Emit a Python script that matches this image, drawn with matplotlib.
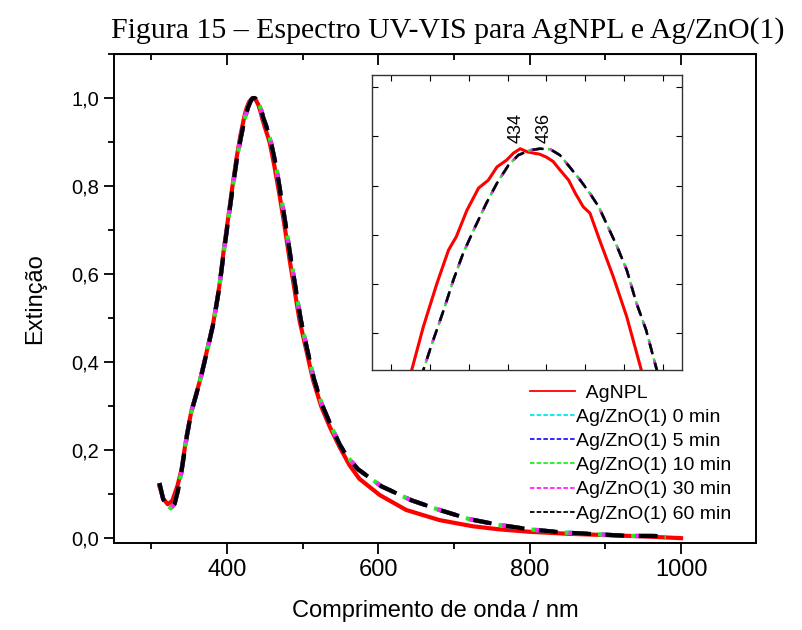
import numpy as np
import matplotlib.pyplot as plt
from matplotlib.ticker import MultipleLocator, FuncFormatter

plt.rcParams['font.family'] = ['Liberation Sans', 'DejaVu Sans']

# AgNPL (red curve): wavelength (nm) and normalised extinction
wl_agnpl = [311, 316, 322, 328, 335, 340, 347.5, 353.5, 364, 373,
            382, 390, 396, 402, 407.5, 413, 418, 422.8, 424.0, 425.4,
            426.6, 427.4, 428.5, 429.7, 430.7, 431.6, 432.6, 433.3, 434.0, 434.7,
            435.4, 436.0, 436.7, 437.4, 438.1, 439.0, 439.7, 440.5, 441.2, 442.2,
            443.6, 445.0, 446.5, 450, 456.5, 463, 470, 476.5, 483, 489.5,
            496, 505, 514, 525, 536, 549, 562, 575, 602, 637,
            681, 725, 760, 800, 850, 900, 950, 1000]
ext_agnpl = [0.118, 0.09, 0.077, 0.085, 0.12, 0.155, 0.238, 0.291, 0.355, 0.42,
             0.488, 0.571, 0.655, 0.73, 0.80, 0.865, 0.915, 0.955, 0.9638, 0.9726,
             0.9794, 0.9821, 0.9875, 0.992, 0.9936, 0.9963, 0.9977, 0.9991, 1.0, 0.9994,
             0.9991, 0.9989, 0.9983, 0.9974, 0.9957, 0.9936, 0.9909, 0.9882, 0.9869, 0.9814,
             0.974, 0.9658, 0.955, 0.935, 0.90, 0.844, 0.776, 0.707, 0.632, 0.564,
             0.495, 0.427, 0.359, 0.298, 0.253, 0.207, 0.166, 0.135, 0.098, 0.064,
             0.041, 0.027, 0.02, 0.0145, 0.01, 0.007, 0.004, 0.0]

# Ag/ZnO(1) curves (0 to 60 min) - they lie on top of each other
wl_agzno = [311, 316, 320, 326, 331, 336, 340, 347.5, 353.5, 364,
            373, 382, 390, 396, 402, 407.5, 413, 418.5,
            424.0, 424.9, 426.1, 427.1, 428.1, 429.2, 430.5, 431.6, 432.8, 433.8,
            435.0, 436.0, 437.1, 438.1, 439.1, 440.2, 441.2, 442.1, 442.9, 444.0,
            445.0, 446.0, 447.0, 448.1,
            452, 458, 465, 471.5, 478, 484.5, 491, 497.5,
            506, 515, 526, 537, 549, 558, 573, 604, 644, 681,
            721, 760, 800, 843, 892, 932, 967, 980]
ext_agzno = [0.125, 0.088, 0.078, 0.068, 0.078, 0.112, 0.15, 0.235, 0.289, 0.353,
             0.418, 0.486, 0.568, 0.65, 0.724, 0.794, 0.858, 0.91,
             0.955, 0.9604, 0.9672, 0.9733, 0.9787, 0.9835, 0.9889, 0.993, 0.9967, 0.9987,
             0.9997, 1.0, 0.9999, 0.9987, 0.9963, 0.9936, 0.9909, 0.9882, 0.9848, 0.9801,
             0.9753, 0.9686, 0.9631, 0.955,
             0.937, 0.902, 0.846, 0.778, 0.709, 0.635, 0.567, 0.498,
             0.43, 0.362, 0.302, 0.258, 0.213, 0.188, 0.157, 0.118, 0.086, 0.064,
             0.043, 0.03, 0.02, 0.013, 0.0085, 0.005, 0.005, 0.003]

zno_labels = ['Ag/ZnO(1) 0 min', 'Ag/ZnO(1) 5 min', 'Ag/ZnO(1) 10 min',
              'Ag/ZnO(1) 30 min', 'Ag/ZnO(1) 60 min']
zno_colors = ['#00e8f0', '#1a1aff', '#22ee22', '#ff22ff', '#000000']
zno_offsets = [1.2, 0.6, 1.8, 0.9, 0.0]

peak_labels = [(434, '434'), (436, '436')]

fig = plt.figure(figsize=(8.03, 6.30), dpi=100)
ax = fig.add_axes([114/803, 87/630, 642/803, 489/630])

ax.plot(wl_agnpl, ext_agnpl, color='#ff0000', lw=3.0, label='  AgNPL', zorder=2)
for lab, col, off in zip(zno_labels, zno_colors, zno_offsets):
    ax.plot(wl_agzno, ext_agzno, color=col, lw=3.0,
            linestyle=(off, (4.5, 3.5)), label=lab, zorder=3)

ax.set_xlim(251, 1099)
ax.set_ylim(-0.011, 1.1)
ax.xaxis.set_major_locator(MultipleLocator(200))
ax.xaxis.set_minor_locator(MultipleLocator(100))
ax.yaxis.set_major_locator(MultipleLocator(0.2))
ax.yaxis.set_minor_locator(MultipleLocator(0.1))
ax.yaxis.set_major_formatter(FuncFormatter(lambda v, p: f'{v:.1f}'.replace('.', ',')))

for s in ax.spines.values():
    s.set_linewidth(1.4)
ax.tick_params(axis='x', which='both', direction='out', labelsize=17, width=1.3)
ax.tick_params(axis='x', which='major', length=8)
ax.tick_params(axis='x', which='minor', length=4)
ax.tick_params(axis='y', which='both', direction='out', labelsize=14.5, width=1.3)
ax.tick_params(axis='y', which='major', length=7)
ax.tick_params(axis='y', which='minor', length=4)

# mirrored top ticks pointing inwards
top = ax.secondary_xaxis('top')
top.xaxis.set_major_locator(MultipleLocator(200))
top.xaxis.set_minor_locator(MultipleLocator(100))
top.tick_params(which='both', direction='in', labeltop=False, width=1.3)
top.tick_params(which='major', length=8)
top.tick_params(which='minor', length=4)

ax.set_xlabel('Comprimento de onda / nm', fontsize=17, labelpad=14)
ax.set_ylabel('Extinção', fontsize=17, labelpad=18)

leg = ax.legend(loc='upper left', bbox_to_anchor=(530/803, 1 - 384/630),
                bbox_transform=fig.transFigure, frameon=False, fontsize=14,
                borderpad=0, handlelength=2.3, handletextpad=0.05,
                labelspacing=0.34, borderaxespad=0)
for ln in leg.get_lines():
    ln.set_linewidth(1.3)
for ln in leg.get_lines()[1:]:
    ln.set_linestyle((0, (2.5, 1.2)))

# inset around the maximum
ins = fig.add_axes([372/803, 260/630, 310/803, 295/630])
ins.plot(wl_agnpl, ext_agnpl, color='#ff0000', lw=2.2, zorder=2)
for col, off in zip(zno_colors, zno_offsets):
    ins.plot(wl_agzno, ext_agzno, color=col, lw=1.8,
             linestyle=(off, (4.5, 3.5)), zorder=3)
ins.set_xlim(418.7, 450.7)
ins.set_ylim(0.955, 1.015)
ins.xaxis.set_major_locator(MultipleLocator(4, offset=0.7))
ins.yaxis.set_major_locator(MultipleLocator(0.01, offset=0.0025))
ins.tick_params(which='both', direction='in', length=4, width=0.8,
                top=True, right=True, labelbottom=False, labelleft=False)
for s in ins.spines.values():
    s.set_linewidth(1.0)
    s.set_color('#333333')

for xp, txt in peak_labels:
    dx = -4 if xp == 434 else 5
    ins.annotate(txt, xy=(xp, 1.0), xytext=(dx, 6), textcoords='offset pixels',
                 rotation=90, ha='center', va='bottom', fontsize=13)

fig.text(448/803, 1 - 31/630, 'Figura 15 – Espectro UV-VIS para AgNPL e Ag/ZnO(1)',
         ha='center', va='center', fontsize=21.5, family=['Liberation Serif', 'DejaVu Serif'])

fig.savefig('out.png', dpi=100)
